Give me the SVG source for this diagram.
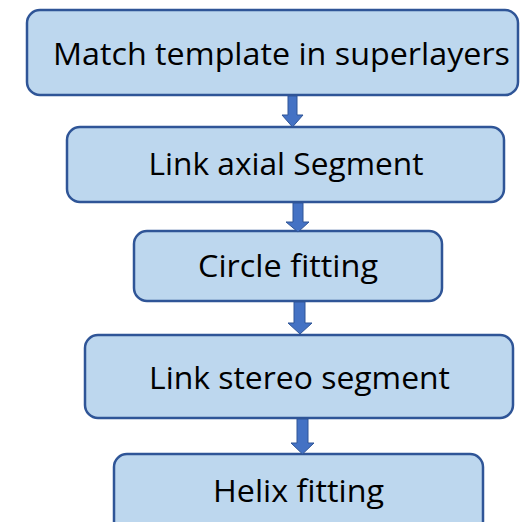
<svg xmlns="http://www.w3.org/2000/svg" width="521" height="522" viewBox="0 0 521 522">
<style>
.box{fill:#BDD7EE;stroke:#2F5597;stroke-width:2.5}
.lbl{font-family:"Open Sans","Noto Sans","Liberation Sans",sans-serif;font-size:31px;fill:#000;text-anchor:middle}
.arr{fill:#4472C4;stroke:#2F5597;stroke-width:1}
</style>
<rect width="521" height="522" fill="#fff"/>
<g id="n1"><rect class="box" x="27" y="10" width="491" height="85" rx="13"/><text class="lbl" x="281.5" y="65" textLength="457" lengthAdjust="spacingAndGlyphs">Match template in superlayers</text></g>
<g id="n2"><rect class="box" x="67" y="127" width="437" height="75" rx="13"/><text class="lbl" x="286" y="175" textLength="275" lengthAdjust="spacingAndGlyphs">Link axial Segment</text></g>
<g id="n3"><rect class="box" x="134" y="231" width="308" height="70" rx="13"/><text class="lbl" x="288" y="277" textLength="180" lengthAdjust="spacingAndGlyphs">Circle fitting</text></g>
<g id="n4"><rect class="box" x="85" y="335" width="428" height="83" rx="13"/><text class="lbl" x="299.5" y="389" textLength="301" lengthAdjust="spacingAndGlyphs">Link stereo segment</text></g>
<g id="n5"><rect class="box" x="114" y="454" width="369" height="80" rx="13"/><text class="lbl" x="298.5" y="502" textLength="171" lengthAdjust="spacingAndGlyphs">Helix fitting</text></g>
<g id="connectors">
<polygon class="arr" points="288,96 297,96 297,115 303,115 292.5,127 282,115 288,115"/>
<polygon class="arr" points="293,203 303,203 303,222 309,222 298,232 286,222 293,222"/>
<polygon class="arr" points="294,302 305,302 305,323 312,323 300,334 288,323 294,323"/>
<polygon class="arr" points="297,419 308,419 308,443 314,443 302.5,454 291,443 297,443"/>
</g>
</svg>
